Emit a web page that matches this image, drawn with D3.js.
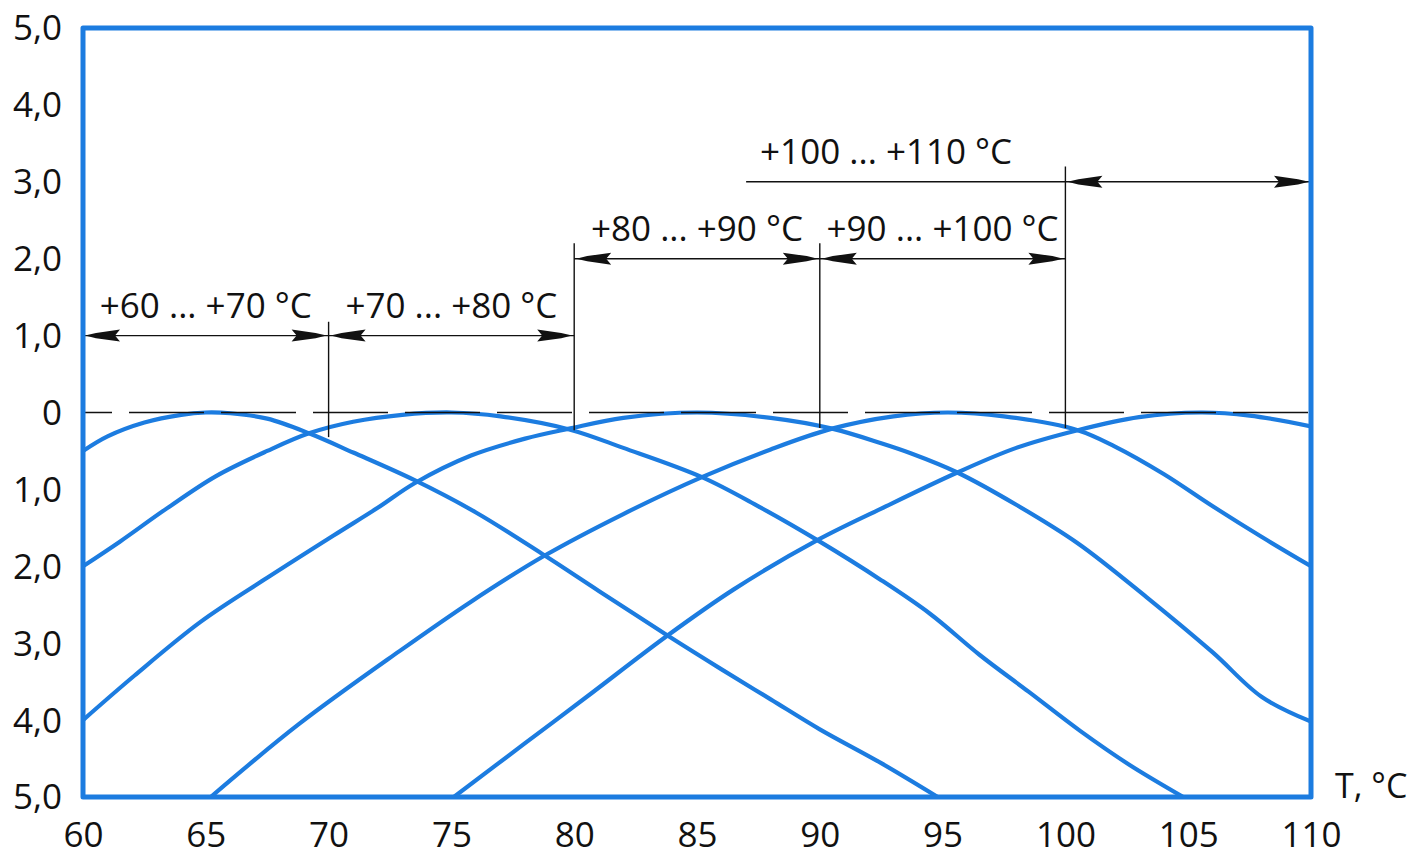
<!DOCTYPE html>
<html>
<head>
<meta charset="utf-8">
<script src="https://cdn.jsdelivr.net/npm/d3@7"></script>
<style>
  body { margin: 0; background: #fff; }
  svg text { font-family: "Open Sans", sans-serif; fill: #111; }
</style>
</head>
<body>
<svg id="chart" width="1409" height="857"></svg>
<script>
// --- Data ---
const xTicks = [60, 65, 70, 75, 80, 85, 90, 95, 100, 105, 110];
const yTicks = [5, 4, 3, 2, 1, 0, -1, -2, -3, -4, -5];

// curves: [T, deviation]
const curve60 = [[60,-0.50],[61,-0.31],[62.5,-0.13],[64,-0.03],[65,0],[66,-0.01],[67.5,-0.08],[69.2,-0.27],[71,-0.52],[73.5,-0.88],[76,-1.30],[78.8,-1.86],[81,-2.32],[83.8,-2.90],[86,-3.34],[88,-3.73],[90,-4.12],[92.5,-4.56],[94.8,-5.0]];
const curve70 = [[60,-2.0],[61.5,-1.68],[63.4,-1.25],[65.4,-0.83],[67.5,-0.50],[69.2,-0.27],[71,-0.12],[73,-0.03],[75,0],[77,-0.05],[79.8,-0.22],[82,-0.46],[85.2,-0.84],[87.5,-1.22],[89.9,-1.66],[92.5,-2.18],[94.5,-2.62],[96.5,-3.15],[98.5,-3.63],[100.6,-4.14],[102.6,-4.58],[104.8,-5.0]];
const curve80 = [[60,-4.0],[62.1,-3.42],[64.8,-2.72],[67.5,-2.15],[70.2,-1.60],[72,-1.24],[73.5,-0.92],[75.8,-0.56],[78,-0.34],[79.8,-0.21],[82,-0.07],[85,0],[88,-0.07],[90.5,-0.21],[92.5,-0.40],[93.7,-0.53],[95.6,-0.78],[98,-1.20],[100.5,-1.70],[103.3,-2.40],[106,-3.12],[108,-3.70],[110,-4.02]];
const curve90 = [[65.2,-5.0],[68.8,-4.05],[72.9,-3.10],[75.8,-2.46],[78.8,-1.86],[82,-1.32],[85.2,-0.84],[88,-0.48],[90.5,-0.21],[93,-0.05],[95.2,0],[97.5,-0.05],[100.5,-0.23],[102,-0.44],[104,-0.80],[106,-1.22],[108,-1.62],[110,-2.0]];
const curve100 = [[75.1,-5.0],[78,-4.30],[80.5,-3.70],[83.8,-2.90],[86.5,-2.30],[89.9,-1.66],[92.5,-1.25],[95.6,-0.78],[98,-0.46],[100.5,-0.23],[103,-0.06],[105.5,0],[107.5,-0.04],[110,-0.18]];
const curves = [curve60, curve70, curve80, curve90, curve100];

// temperature ranges marked with dimension lines
const rangeLabels = ["+60 ... +70 °C", "+70 ... +80 °C", "+80 ... +90 °C", "+90 ... +100 °C", "+100 ... +110 °C"];
const rangeFrom = [60, 70, 80, 90, 100];
const rangeTo = [70, 80, 90, 100, 110];
const rangeLevel = [1, 1, 2, 2, 3];
const labelAt = [65, 75, 85, 95, 92.7];
const leaderFrom = [60, 70, 80, 90, 87];

// extension lines at the range borders
const borderT = [70, 80, 90, 100];
const borderTop = [1.18, 2.2, 2.2, 3.2];
const borderBottom = [-0.32, -0.23, -0.2, -0.2];

// --- Layout ---
const W = 1409, H = 857;
const margin = { top: 28, right: 98, bottom: 60, left: 83 };
const blue = "#1c7ce0";

const svg = d3.select("#chart");
const x = d3.scaleLinear().domain([60, 110]).range([margin.left, W - margin.right]);
const y = d3.scaleLinear().domain([-5, 5]).range([H - margin.bottom, margin.top]);

const fmt = v => v === 0 ? "0" : Math.abs(v).toFixed(1).replace(".", ",");

// Axes (labels only, frame drawn separately)
const gx = svg.append("g")
    .attr("transform", `translate(0,${y(-5)})`)
    .call(d3.axisBottom(x).tickValues(xTicks).tickSize(0).tickFormat(d3.format("d")));
gx.select(".domain").remove();
gx.selectAll("text").attr("y", 50).attr("dy", 0).style("font-size", "35px");

const gy = svg.append("g")
    .attr("transform", `translate(${x(60)},0)`)
    .call(d3.axisLeft(y).tickValues(yTicks).tickSize(0).tickPadding(21).tickFormat(fmt));
gy.select(".domain").remove();
gy.selectAll("text").attr("dy", "0.34em").style("font-size", "35px");

svg.append("text")
    .attr("x", x(110) + 24)
    .attr("y", y(-5) + 1)
    .style("font-size", "34px")
    .text("T, °C");

// clip for the curves
svg.append("clipPath").attr("id", "plot")
  .append("rect")
    .attr("x", x(60)).attr("y", y(5))
    .attr("width", x(110) - x(60)).attr("height", y(-5) - y(5));

const line = d3.line()
    .x(d => x(d[0]))
    .y(d => y(d[1]))
    .curve(d3.curveCatmullRom.alpha(0.5));

svg.append("g")
    .attr("clip-path", "url(#plot)")
  .selectAll("path")
  .data(curves)
  .join("path")
    .attr("d", line)
    .attr("fill", "none")
    .attr("stroke", blue)
    .attr("stroke-width", 4.2)
    .attr("stroke-linejoin", "round");

// zero line
svg.append("line")
    .attr("x1", x(60)).attr("x2", x(110))
    .attr("y1", y(0)).attr("y2", y(0))
    .attr("stroke", "#111")
    .attr("stroke-width", 1.3)
    .attr("stroke-dasharray", "75,17")
    .attr("stroke-dashoffset", 46);

// extension lines
svg.append("g").selectAll("line")
  .data(borderT)
  .join("line")
    .attr("x1", d => x(d)).attr("x2", d => x(d))
    .attr("y1", (d, i) => y(borderTop[i]))
    .attr("y2", (d, i) => y(borderBottom[i]))
    .attr("stroke", "#111")
    .attr("stroke-width", 1.4);

// dimension lines with arrows
const arrow = "M0,0 L-11,-2.6 L-35,-6 L-30,0 L-35,6 L-11,2.6 Z";
const dims = svg.append("g");
rangeLabels.forEach((label, i) => {
  const ly = y(rangeLevel[i]);
  dims.append("line")
      .attr("x1", x(leaderFrom[i])).attr("x2", x(rangeTo[i]))
      .attr("y1", ly).attr("y2", ly)
      .attr("stroke", "#111")
      .attr("stroke-width", 1.4);
  dims.append("path")
      .attr("d", arrow)
      .attr("transform", `translate(${x(rangeFrom[i]) + 2},${ly}) scale(-1,1)`)
      .attr("fill", "#111");
  dims.append("path")
      .attr("d", arrow)
      .attr("transform", `translate(${x(rangeTo[i]) - 2},${ly})`)
      .attr("fill", "#111");
  dims.append("text")
      .attr("x", x(labelAt[i]))
      .attr("y", ly - 18)
      .attr("text-anchor", "middle")
      .style("font-size", "35px")
      .text(label);
});

// plot frame
svg.append("rect")
    .attr("x", x(60)).attr("y", y(5))
    .attr("width", x(110) - x(60)).attr("height", y(-5) - y(5))
    .attr("fill", "none")
    .attr("stroke", blue)
    .attr("stroke-width", 5)
    .attr("stroke-linejoin", "round");
</script>
</body>
</html>
